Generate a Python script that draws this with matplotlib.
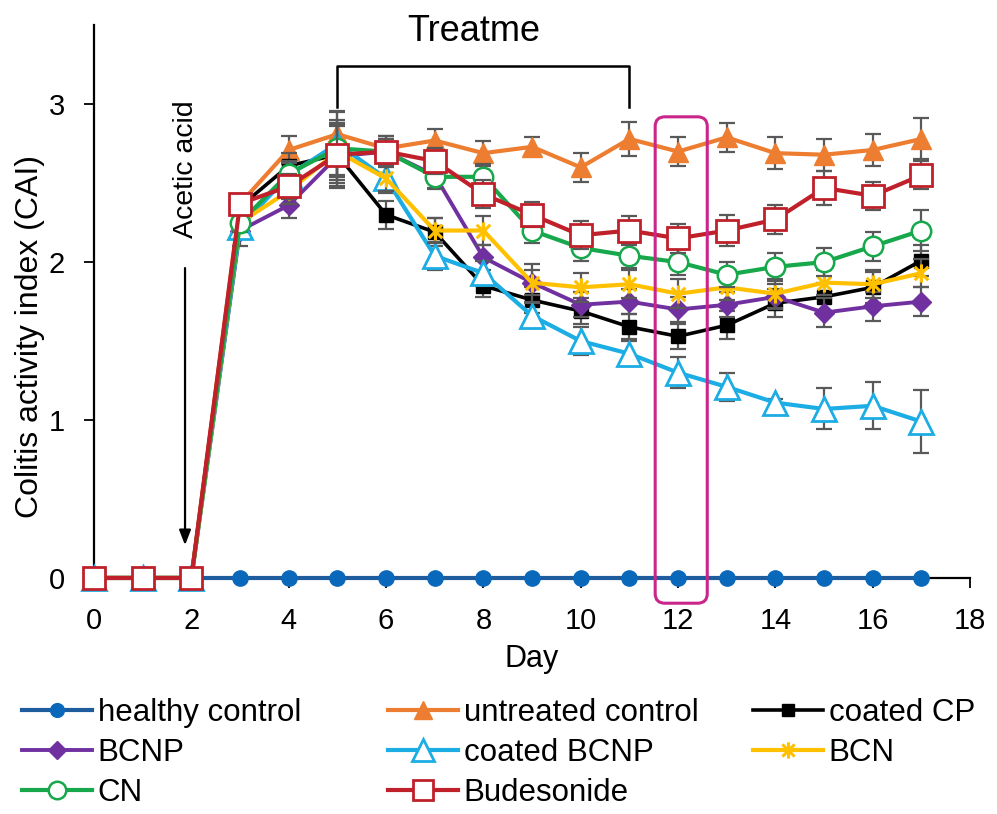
import matplotlib
matplotlib.use("Agg")
import matplotlib.pyplot as plt
import numpy as np
from matplotlib.path import Path
from matplotlib.patches import FancyBboxPatch

plt.rcParams['font.family'] = ['Liberation Sans', 'DejaVu Sans']

days = list(range(0, 18))

healthy_control = [0] * 18
untreated_control = [0, 0, 0, 2.37, 2.71, 2.81, 2.72, 2.77, 2.69, 2.73, 2.60, 2.78, 2.70, 2.79, 2.69, 2.68, 2.71, 2.78]
coated_cp = [0, 0, 0, 2.35, 2.61, 2.68, 2.30, 2.19, 1.85, 1.76, 1.69, 1.59, 1.53, 1.60, 1.74, 1.78, 1.84, 2.01]
bcnp = [0, 0, 0, 2.20, 2.36, 2.67, 2.70, 2.55, 2.03, 1.87, 1.73, 1.75, 1.70, 1.73, 1.78, 1.68, 1.72, 1.75]
coated_bcnp = [0, 0, 0, 2.22, 2.55, 2.75, 2.53, 2.04, 1.93, 1.66, 1.50, 1.42, 1.30, 1.21, 1.11, 1.07, 1.09, 0.99]
bcn = [0, 0, 0, 2.25, 2.45, 2.70, 2.53, 2.20, 2.20, 1.87, 1.84, 1.86, 1.80, 1.84, 1.80, 1.87, 1.86, 1.93]
cn = [0, 0, 0, 2.25, 2.56, 2.72, 2.70, 2.54, 2.54, 2.20, 2.09, 2.04, 2.00, 1.92, 1.97, 2.00, 2.10, 2.20]
budesonide = [0, 0, 0, 2.37, 2.48, 2.68, 2.70, 2.64, 2.43, 2.30, 2.17, 2.20, 2.15, 2.20, 2.27, 2.47, 2.42, 2.55]

err_healthy = [0] * 18
err_untreated = [0, 0, 0, 0.06, 0.09, 0.15, 0.08, 0.07, 0.08, 0.06, 0.09, 0.11, 0.09, 0.09, 0.10, 0.10, 0.10, 0.13]
err_coated_cp = [0, 0, 0, 0.06, 0.08, 0.20, 0.09, 0.09, 0.07, 0.08, 0.08, 0.08, 0.08, 0.09, 0.09, 0.09, 0.10, 0.10]
err_bcnp = [0, 0, 0, 0.10, 0.08, 0.20, 0.08, 0.08, 0.08, 0.08, 0.08, 0.08, 0.08, 0.08, 0.08, 0.09, 0.09, 0.09]
err_coated_bcnp = [0, 0, 0, 0.06, 0.08, 0.20, 0.09, 0.09, 0.08, 0.08, 0.09, 0.08, 0.10, 0.09, 0.02, 0.13, 0.15, 0.20]
err_bcn = [0, 0, 0, 0.06, 0.08, 0.18, 0.08, 0.08, 0.09, 0.12, 0.09, 0.09, 0.09, 0.08, 0.09, 0.08, 0.09, 0.09]
err_cn = [0, 0, 0, 0.06, 0.08, 0.18, 0.08, 0.08, 0.08, 0.08, 0.08, 0.08, 0.08, 0.08, 0.09, 0.09, 0.09, 0.13]
err_budesonide = [0, 0, 0, 0.06, 0.08, 0.18, 0.10, 0.08, 0.09, 0.08, 0.09, 0.09, 0.09, 0.10, 0.09, 0.11, 0.09, 0.09]

# vertical bar plus an X, like a spreadsheet "star" marker
star_path = Path(
    [(0, -1), (0, 1), (-0.75, -0.75), (0.75, 0.75), (-0.75, 0.75), (0.75, -0.75)],
    [Path.MOVETO, Path.LINETO, Path.MOVETO, Path.LINETO, Path.MOVETO, Path.LINETO],
)

series = [
    dict(label="healthy control", y=healthy_control, e=err_healthy, color="#1f5c9e",
         mfc="#0a68bb", mec="#0a68bb", marker="o", ms=11, lw=3),
    dict(label="untreated control", y=untreated_control, e=err_untreated, color="#ed7d31",
         mfc="#ed7d31", mec="#ed7d31", marker="^", ms=14, lw=3),
    dict(label="coated CP", y=coated_cp, e=err_coated_cp, color="#000000",
         mfc="#000000", mec="#000000", marker="s", ms=10, lw=2.6),
    dict(label="BCNP", y=bcnp, e=err_bcnp, color="#7030a0",
         mfc="#7030a0", mec="#7030a0", marker="D", ms=10, lw=2.8),
    dict(label="coated BCNP", y=coated_bcnp, e=err_coated_bcnp, color="#1cade4",
         mfc="white", mec="#1cade4", marker="^", ms=17, lw=3, mew=2),
    dict(label="BCN", y=bcn, e=err_bcn, color="#ffc000",
         mfc="#ffc000", mec="#ffc000", marker=star_path, ms=13, lw=3, mew=2.2),
    dict(label="CN", y=cn, e=err_cn, color="#16a84a",
         mfc="white", mec="#16a84a", marker="o", ms=14, lw=3, mew=1.8),
    dict(label="Budesonide", y=budesonide, e=err_budesonide, color="#c0202a",
         mfc="white", mec="#c0202a", marker="s", ms=16, lw=3, mew=2),
]

fig = plt.figure(figsize=(9.97, 8.14), dpi=100)
ax = fig.add_axes([0.0943, 0.290, 0.8787, 0.679])

handles = {}
for i, s in enumerate(series):
    z = 3 + i
    if any(v > 0 for v in s["e"]):
        ax.errorbar(days, s["y"], yerr=s["e"], fmt="none", ecolor="#595959",
                    elinewidth=1.6, capsize=5.5, capthick=1.6, zorder=z, clip_on=False)
    ln, = ax.plot(days, s["y"], color=s["color"], lw=s["lw"], marker=s["marker"],
                  ms=s["ms"], mfc=s["mfc"], mec=s["mec"], mew=s.get("mew", 1.0),
                  zorder=z + 0.5, clip_on=False, label=s["label"])
    handles[s["label"]] = ln

ax.set_xlim(0, 18)
ax.set_ylim(0, 3.5)
ax.set_xticks(range(0, 19, 2))
ax.set_yticks([0, 1, 2, 3])
ax.spines["top"].set_visible(False)
ax.spines["right"].set_visible(False)
ax.spines["left"].set_linewidth(1.6)
ax.spines["bottom"].set_linewidth(1.6)
ax.spines["bottom"].set_zorder(1)
ax.tick_params(axis="both", labelsize=21, colors="black", direction="out", length=7, width=1.3)
ax.tick_params(axis="x", pad=14)
ax.tick_params(axis="y", pad=14)
ax.set_xlabel("Day", fontsize=22)
ax.set_ylabel("Colitis activity index (CAI)", fontsize=23)
ax.xaxis.set_label_coords(0.5, -0.119)
ax.yaxis.set_label_coords(-0.056, 0.436)

# highlighted day-12 window
box = FancyBboxPatch((11.53, -0.16), 1.07, 3.08,
                     boxstyle="round,pad=0,rounding_size=0.2",
                     mutation_aspect=1 / 3.3,
                     fc="none", ec="#c9258a", lw=2.2, zorder=20, clip_on=False)
ax.add_patch(box)

# acetic acid administration
ax.text(1.88, 2.59, "Acetic acid", rotation=90, fontsize=20.5, ha="center", va="center")
ax.annotate("", xy=(1.87, 0.19), xytext=(1.87, 1.98),
            arrowprops=dict(arrowstyle="-|>,head_length=0.9,head_width=0.35",
                            color="black", lw=1.6))

# treatment period bracket
ax.plot([5, 5, 11, 11], [2.98, 3.24, 3.24, 2.98], color="black", lw=1.8,
        clip_on=False, zorder=2)
ax.text(7.8, 3.46, "Treatme", fontsize=26, ha="center", va="center", clip_on=False)

# legend laid out in three columns
columns = [
    (["healthy control", "BCNP", "CN"], 0.022),
    (["untreated control", "coated BCNP", "Budesonide"], 0.389),
    (["coated CP", "BCN"], 0.755),
]
for labels, x0 in columns:
    fig.legend([handles[l] for l in labels], labels, loc="upper left",
               bbox_to_anchor=(x0, 0.143),
               frameon=False, fontsize=22.5, handlelength=2.25, handletextpad=0.18,
               labelspacing=0.33, borderpad=0, borderaxespad=0, markerscale=0.9)

fig.savefig("out.png", dpi=100)
